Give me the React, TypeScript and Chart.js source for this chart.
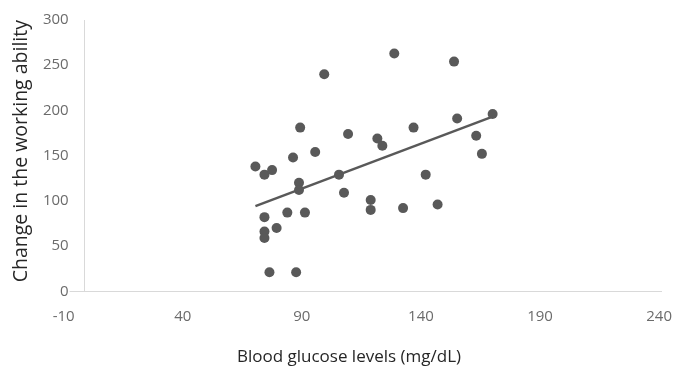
import { useEffect, useRef } from 'react';
import { Chart, registerables } from 'chart.js';

Chart.register(...registerables);

// Blood glucose levels (mg/dL)
const glucose = [70.5, 74.3, 77.5, 86.3, 89.3, 99.4, 95.6, 88.8, 88.8, 105.6, 107.7, 109.4, 121.7, 123.8, 128.8, 136.9, 142, 118.9, 118.9, 132.5, 147, 153.9, 155.2, 170.1, 163.2, 165.6, 74.3, 83.9, 91.3, 79.4, 74.3, 74.3, 76.4, 87.6];
// Change in the working ability
const ability = [138, 129, 134, 148, 181, 240, 154, 120, 112, 129, 109, 174, 169, 161, 263, 181, 129, 101, 90, 92, 96, 254, 191, 196, 172, 152, 82, 87, 87, 70, 66, 59, 21, 21];

const xTickValues = [-10, 40, 90, 140, 190, 240];
const yTickStep = 50;
const xTitle = 'Blood glucose levels (mg/dL)';
const yTitle = 'Change in the working ability';

const FONT = "'Open Sans', 'Noto Sans', sans-serif";
const MARK = '#595959';
const AXIS = '#d9d9d9';

function linearFit(xs: number[], ys: number[]) {
  const n = xs.length;
  const mx = xs.reduce((a, b) => a + b, 0) / n;
  const my = ys.reduce((a, b) => a + b, 0) / n;
  let sxy = 0;
  let sxx = 0;
  for (let i = 0; i < n; i++) {
    sxy += (xs[i] - mx) * (ys[i] - my);
    sxx += (xs[i] - mx) * (xs[i] - mx);
  }
  const slope = sxy / sxx;
  return { slope, intercept: my - slope * mx };
}

export default function App() {
  const ref = useRef<HTMLCanvasElement>(null);

  useEffect(() => {
    const points = glucose.map((x, i) => ({ x, y: ability[i] }));
    const { slope, intercept } = linearFit(glucose, ability);
    const x0 = Math.min(...glucose);
    const x1 = Math.max(...glucose);
    const trend = [x0, x1].map((x) => ({ x, y: intercept + slope * x }));

    const chart = new Chart(ref.current!, {
      type: 'scatter',
      data: {
        datasets: [
          {
            type: 'line',
            data: trend,
            borderColor: MARK,
            borderWidth: 2.5,
            pointRadius: 0,
            fill: false,
            order: 0,
          } as any,
          {
            data: points,
            backgroundColor: MARK,
            borderWidth: 0,
            pointRadius: 5,
            pointHoverRadius: 5,
            order: 1,
          },
        ],
      },
      options: {
        responsive: true,
        maintainAspectRatio: false,
        animation: false,
        layout: { padding: { left: 10, right: -14, top: 20, bottom: 1.8 } },
        plugins: {
          legend: { display: false },
          tooltip: { enabled: false },
          title: {
            display: true,
            text: xTitle,
            position: 'bottom',
            fullSize: true,
            color: '#262626',
            font: { family: FONT, size: 17, weight: 'normal' },
            padding: { top: 19.5, bottom: 0 },
          },
        },
        scales: {
          x: {
            type: 'linear',
            min: -1.2,
            max: 240.8,
            afterBuildTicks: (scale: any) => {
              scale.ticks = xTickValues.map((v) => ({ value: v }));
            },
            ticks: {
              autoSkip: false,
              maxRotation: 0,
              padding: 2,
              color: '#6b6b6b',
              font: { family: FONT, size: 15 },
            },
            grid: {
              display: true,
              drawOnChartArea: false,
              drawTicks: true,
              tickLength: 14,
              color: 'rgba(0,0,0,0)',
            },
            border: { display: true, color: AXIS, width: 1 },
          },
          y: {
            type: 'linear',
            min: 0,
            max: 300,
            ticks: {
              stepSize: yTickStep,
              padding: 1,
              color: '#6b6b6b',
              font: { family: FONT, size: 15 },
            },
            grid: {
              display: true,
              drawOnChartArea: false,
              drawTicks: true,
              tickLength: 15,
              color: (ctx: any) => (ctx.tick && ctx.tick.value === 0 ? AXIS : 'rgba(0,0,0,0)'),
            },
            border: { display: true, color: AXIS, width: 1 },
            title: {
              display: true,
              text: yTitle,
              align: 'end',
              color: '#262626',
              font: { family: FONT, size: 19.5 },
              padding: { top: 0, bottom: 8.5 },
            },
          },
        },
      },
    });
    return () => chart.destroy();
  }, []);

  return (
    <div style={{ position: 'fixed', left: 0, top: 0, width: 674, height: 369, background: '#fff' }}>
      <canvas ref={ref} />
    </div>
  );
}
